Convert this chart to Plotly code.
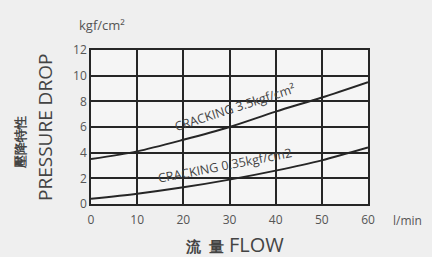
import plotly.graph_objects as go

flow = [0, 10, 20, 30, 40, 50, 60]
drop_35 = [3.5, 4.1, 5.0, 6.0, 7.2, 8.3, 9.5]
drop_035 = [0.4, 0.8, 1.3, 1.9, 2.6, 3.4, 4.4]
x_ticks = [0, 10, 20, 30, 40, 50, 60]
y_ticks = [0, 2, 4, 6, 8, 10, 12]
label_35 = "CRACKING 3.5kgf/cm²"
label_035 = "CRACKING 0.35kgf/cm2"

FONT = "Open Sans"
TXT = "#555555"
LINE = "#262626"
W, H = 432, 257
L, R, T, B = 91, 64, 50, 53

fig = go.Figure()
for ys in (drop_35, drop_035):
    fig.add_trace(go.Scatter(x=flow, y=ys, mode="lines",
                             line=dict(color=LINE, width=2, shape="spline", smoothing=0.8),
                             showlegend=False, hoverinfo="skip"))

fig.update_layout(
    width=W, height=H,
    margin=dict(l=L, r=R, t=T, b=B),
    paper_bgcolor="#efefef", plot_bgcolor="#f5f5f5",
    font=dict(family=FONT, color=TXT, size=11),
    xaxis=dict(range=[0, 60], tickvals=x_ticks, showgrid=True, gridcolor=LINE, gridwidth=1.5,
               zeroline=False, showline=True, linecolor=LINE, linewidth=1.5, mirror=True,
               ticks="", ticklen=0, ticklabelstandoff=4, tickfont=dict(size=12, color=TXT)),
    yaxis=dict(range=[0, 12], tickvals=y_ticks, showgrid=True, gridcolor=LINE, gridwidth=1.5,
               zeroline=False, showline=True, linecolor=LINE, linewidth=1.5, mirror=True,
               ticks="", tickfont=dict(size=12, color=TXT)),
)

# data-anchored curve labels
fig.add_annotation(x=31.2, y=7.5, xref="x", yref="y", text=label_35, textangle=-18,
                   showarrow=False, xanchor="center", yanchor="middle",
                   font=dict(size=12.5, color="#444"))
fig.add_annotation(x=29, y=3.0, xref="x", yref="y", text=label_035, textangle=-11,
                   showarrow=False, xanchor="center", yanchor="middle",
                   font=dict(size=12.5, color="#444"))


def px(x, y, text, size, angle=0, color="#444"):
    fig.add_annotation(xref="paper", yref="paper",
                       x=(x - L) / (W - L - R), y=(H - B - y) / (H - T - B),
                       text=text, textangle=angle, showarrow=False,
                       xanchor="center", yanchor="middle",
                       font=dict(size=size, color=color, family=FONT))


px(102, 25, "kgf/cm²", 13, color=TXT)
px(407, 220, "l/min", 12, color=TXT)
px(234, 244, "<b><span style='font-size:15px'>流  量</span></b> FLOW", 20)
px(20, 143, "<b>壓降特性</b>", 13, angle=-90)
px(45, 128, "PRESSURE DROP", 19, angle=-90)

fig.write_html("out.html", config={"displayModeBar": False},
               post_script="document.body.style.margin='0';")
